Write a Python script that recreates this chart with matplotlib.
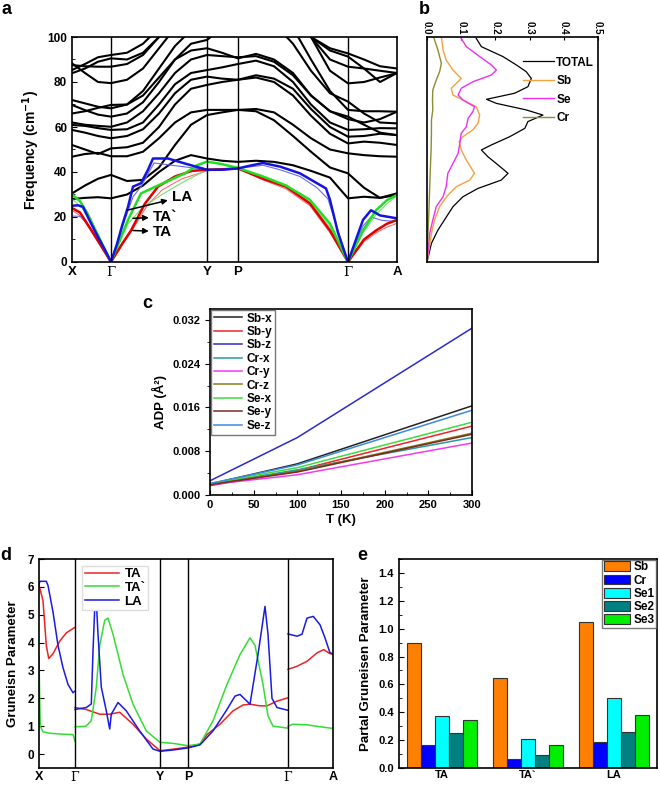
import numpy as np
import matplotlib
matplotlib.use('Agg')
import matplotlib.pyplot as plt
from matplotlib.ticker import MultipleLocator

plt.rcParams['font.family'] = ['Liberation Sans', 'DejaVu Sans']
plt.rcParams['font.weight'] = 'bold'
plt.rcParams['axes.labelweight'] = 'bold'
plt.rcParams['mathtext.default'] = 'bf'
plt.rcParams['axes.linewidth'] = 1.2

W, H = 660, 785
nan = float('nan')

# ---------------- panel a: phonon dispersion ----------------
kpath = [0, 39, 135, 166, 276, 325]
klabels = ['X', 'Γ', 'Y', 'P', 'Γ', 'A']
kgrid = [0, 13, 26, 39, 55, 71, 87, 103, 119, 135, 150, 166, 184, 202, 221, 239, 258, 276, 292, 308, 325]
optical = [
    [28.0, 28.5, 28.8, 28.3, 30.0, 34.0, 40.0, 45.0, 47.5, 46.0, 45.0, 44.5, 45.0, 44.5, 43.0, 40.5, 37.5, 28.3, 29.0, 28.5, 29.8],
    [30.5, 34.0, 37.0, 38.7, 36.0, 36.5, 42.0, 52.0, 61.0, 65.3, 66.5, 67.6, 67.0, 63.0, 56.0, 49.0, 42.0, 39.4, 33.0, 28.5, 30.5],
    [46.8, 48.0, 48.5, 47.0, 47.0, 49.0, 55.0, 62.0, 66.5, 67.6, 67.6, 67.6, 68.0, 66.5, 61.0, 55.0, 50.0, 48.3, 47.5, 47.0, 46.8],
    [52.0, 50.0, 48.0, 50.5, 51.0, 53.0, 60.0, 70.0, 77.0, 78.7, 80.0, 81.0, 82.0, 80.0, 74.0, 65.0, 57.0, 52.7, 53.5, 53.0, 52.0],
    [58.7, 57.5, 56.0, 55.0, 56.0, 59.0, 66.0, 75.0, 81.0, 82.4, 81.5, 81.0, 83.0, 81.5, 77.0, 68.0, 60.0, 55.7, 56.0, 57.0, 56.4],
    [60.9, 60.5, 59.5, 58.7, 59.0, 62.0, 70.0, 79.0, 84.0, 85.3, 86.5, 88.0, 89.5, 87.0, 80.0, 70.0, 62.0, 58.7, 59.0, 59.5, 59.4],
    [66.0, 67.0, 68.5, 69.8, 70.0, 74.0, 82.0, 90.0, 94.0, 95.0, 93.0, 90.5, 92.5, 90.0, 84.0, 74.0, 67.0, 64.6, 61.0, 57.5, 56.4],
    [69.8, 67.5, 65.5, 64.6, 66.0, 71.0, 80.0, 90.0, 97.0, 98.7, 104.0, 108.0, 110.0, 106.0, 97.0, 85.0, 75.0, 71.3, 66.0, 62.0, 61.6],
    [72.0, 70.5, 69.0, 68.3, 70.0, 76.0, 86.0, 96.0, 103.0, 106.0, 106.0, 106.0, 108.0, 110.0, 104.0, 90.0, 76.0, 67.6, 67.0, 67.0, 66.8],
    [83.9, 86.0, 89.0, 90.5, 90.0, 93.0, 100.0, 108.0, 112.0, 114.0, 114.0, 114.0, 114.0, 114.0, 112.0, 100.0, 85.0, 79.4, 80.0, 82.0, 83.9],
    [85.3, 88.0, 91.0, 92.0, 93.0, 97.0, 104.0, 110.0, 112.0, 112.0, 112.0, 112.0, 112.0, 112.0, 110.0, 100.0, 90.0, 86.8, 86.0, 85.0, 84.0],
    [88.3, 84.0, 80.0, 79.5, 81.0, 86.0, 95.0, 104.0, 110.0, 115.0, 115.0, 115.0, 115.0, 112.0, 108.0, 100.0, 95.0, 92.7, 90.0, 87.0, 86.0],
    [87.5, 87.0, 86.8, 86.8, 88.0, 92.0, 100.0, 108.0, 114.0, 116.0, 116.0, 116.0, 116.0, 116.0, 110.0, 100.0, 94.0, 91.3, 86.0, 80.0, 84.0],
    [62.0, 61.0, 60.5, 60.1, 62.0, 67.0, 75.0, 84.0, 90.0, 92.0, 91.5, 91.0, 91.5, 89.0, 83.0, 74.0, 67.0, 63.5, 62.0, 63.5, 66.8],
]

la_k = [0, 6, 11, 17, 22, 28, 34, 39, 45, 50, 56, 61, 69, 76, 81, 96, 115, 135, 150, 166, 180, 191, 208, 228, 245, 254, 258, 266, 276, 284, 291, 299, 308, 325]
la_f = [25, 25.2, 24.5, 19, 14.5, 9.5, 4.5, 0, 8, 16, 24.5, 33.5, 35, 41, 46, 46, 43.5, 41, 41, 41.6, 43, 44, 42.4, 39.4, 35, 32.7, 27.6, 13, 0, 10, 18.7, 23, 20.7, 19.4]
la2_k = [0, 8, 15, 27, 39, 50, 61, 69, 82, 100, 135, 166, 191, 208, 228, 245, 256, 266, 276, 291, 299, 310, 325]
la2_f = [20.4, 20.3, 17, 9, 0, 15, 29, 33.5, 44, 43, 41, 41.6, 43, 41, 38, 33, 28, 14, 0, 16, 20, 18.5, 18]
tap_k = [0, 8, 15, 28, 39, 48, 56, 69, 86, 113, 125, 135, 150, 166, 191, 214, 238, 258, 276, 291, 304, 315, 325]
tap_f = [30, 27, 22, 10, 0, 10, 18.7, 30.5, 34, 39.4, 43, 44.6, 43.5, 41.8, 38, 34, 27.6, 17, 0, 14, 23, 27.5, 29.8]
tap2_k = [0, 10, 25, 39, 56, 70, 90, 113, 135, 166, 191, 214, 238, 258, 276, 291, 304, 315, 325]
tap2_f = [28, 24, 13, 0, 17, 24, 30, 36, 41, 41.6, 37.5, 33, 26.5, 15.5, 0, 13, 21, 26, 29.5]
ta_k = [0, 8, 21, 39, 50, 59, 73, 86, 103, 120, 135, 150, 166, 191, 214, 238, 258, 276, 292, 304, 315, 325]
ta_f = [24, 22, 13, 0, 8, 14, 26, 33.5, 38, 40.5, 41, 41.2, 41.6, 37, 33.5, 26, 14, 0, 10, 14, 17, 18.7]
ta2_k = [0, 10, 39, 60, 75, 90, 110, 135, 166, 191, 214, 238, 258, 276, 292, 304, 315, 325]
ta2_f = [23, 20, 0, 14, 25, 32, 37, 40.5, 41.6, 36.5, 32.5, 25, 13, 0, 9, 13, 15.5, 17.2]

# ---------------- panel b: phonon DOS ----------------
tot_f = [99.4, 95.7, 91.3, 87.6, 84.6, 81.6, 77.9, 75.0, 72.3, 70.5, 67.6, 65.3, 62.4, 59.4, 55.7, 52.0, 49.8, 46.8, 43.1, 39.4, 36.4, 32.7, 29.0, 24.6, 20.1, 14.2, 8.3, 0]
tot_d = [0.144, 0.159, 0.222, 0.261, 0.290, 0.305, 0.295, 0.256, 0.174, 0.203, 0.290, 0.339, 0.295, 0.286, 0.242, 0.188, 0.159, 0.178, 0.208, 0.237, 0.217, 0.149, 0.105, 0.076, 0.057, 0.032, 0.013, 0]
sb_f = [100.1, 94.2, 89.8, 85.3, 81.6, 79.4, 77.2, 74.2, 72.0, 69.0, 65.3, 61.6, 58.7, 55.7, 53.5, 49.8, 45.3, 39.4, 36.4, 33.5, 29.0, 24.6, 18.7, 12.7, 0]
sb_d = [0.042, 0.047, 0.056, 0.076, 0.100, 0.086, 0.071, 0.076, 0.105, 0.144, 0.154, 0.149, 0.134, 0.105, 0.094, 0.100, 0.115, 0.139, 0.125, 0.086, 0.057, 0.037, 0.022, 0.013, 0]
se_f = [99.4, 95.7, 91.3, 87.6, 85.3, 83.1, 80.1, 77.2, 74.2, 72.0, 69.0, 66.8, 63.8, 60.1, 57.2, 52.7, 48.3, 43.8, 39.4, 33.5, 29.0, 24.6, 18.7, 12.7, 0]
se_d = [0.100, 0.115, 0.154, 0.188, 0.203, 0.188, 0.134, 0.100, 0.091, 0.105, 0.139, 0.134, 0.120, 0.115, 0.100, 0.096, 0.091, 0.076, 0.061, 0.056, 0.047, 0.027, 0.017, 0.008, 0]
cr_f = [100.1, 94.2, 88.3, 84.6, 80.9, 76.4, 72.0, 67.6, 63.1, 57.2, 49.8, 42.4, 33.5, 24.6, 12.7, 0]
cr_d = [0.019, 0.032, 0.042, 0.037, 0.027, 0.017, 0.016, 0.017, 0.013, 0.013, 0.012, 0.010, 0.008, 0.006, 0.003, 0]

# ---------------- panel c: ADP ----------------
temps = [0, 100, 300]
adp_names = ['Sb-x', 'Sb-y', 'Sb-z', 'Cr-x', 'Cr-y', 'Cr-z', 'Se-x', 'Se-y', 'Se-z']
adp_vals = [
    [0.0020, 0.0057, 0.0163],
    [0.0017, 0.0045, 0.0126],
    [0.0026, 0.0105, 0.0305],
    [0.0020, 0.0046, 0.0105],
    [0.0019, 0.0037, 0.0095],
    [0.0020, 0.0043, 0.0113],
    [0.0021, 0.0050, 0.0133],
    [0.0019, 0.0042, 0.0111],
    [0.0021, 0.0055, 0.0155],
]
adp_colors = ['#222222', '#e8262b', '#2b2bc8', '#2a9a9a', '#f03cf0', '#8a7a1e', '#3ddc3d', '#7a2a22', '#3a8ae0']

# ---------------- panel d: Gruneisen dispersion ----------------
dpath = [0, 36, 121, 149, 249, 294]
gta_k = [0, 4, 7.3, 9.7, 14, 20.7, 27.3, 36, 36, 36, 47.3, 60.7, 70.7, 80.7, 94, 107.3, 121, 135, 149, 161, 168, 181, 194, 204, 211, 221, 228, 238, 249, 249, 249, 258, 268, 278, 284.7, 289.7, 294]
gta_g = [6.07, 5.5, 3.9, 3.43, 3.6, 4.05, 4.35, 4.55, nan, 1.67, 1.6, 1.43, 1.43, 1.5, 1.07, 0.54, 0.12, 0.18, 0.25, 0.36, 0.7, 1.07, 1.55, 1.76, 1.79, 1.73, 1.73, 1.9, 2.02, nan, 3.04, 3.15, 3.33, 3.63, 3.75, 3.63, 3.57]
gtap_k = [0, 0.7, 1.3, 4, 10, 20, 34, 35.3, 36, 36, 36, 47, 52.3, 57.3, 60.7, 65.7, 69, 74, 84, 94, 107.3, 121, 135, 149, 161, 174, 188, 201, 211, 216, 224, 229, 234, 249, 249, 249, 254, 268, 281, 294]
gtap_g = [3.5, 2.0, 1.0, 0.8, 0.75, 0.72, 0.7, 0.55, 0.45, nan, 0.98, 1.0, 1.2, 2.4, 3.9, 4.8, 4.88, 4.3, 2.86, 1.79, 0.83, 0.42, 0.38, 0.3, 0.36, 1.19, 2.5, 3.57, 4.17, 3.9, 2.5, 1.37, 1.0, 0.93, nan, 1.0, 1.07, 1.05, 0.98, 0.92]
gla_k = [0, 1, 7.3, 9, 14, 19, 24, 29, 34, 36, 36, 36, 47.3, 52.3, 54, 55.7, 57.3, 59, 62.3, 67.3, 70.7, 72.3, 79, 87.3, 100.7, 114, 121, 135, 149, 161, 174, 188, 196, 201, 211, 219, 226, 229, 233, 238, 249, 249, 249, 258, 263, 268, 274.3, 281, 286, 291, 294]
gla_g = [6.1, 6.2, 6.2, 6.05, 5.1, 3.9, 3.1, 2.5, 2.2, 2.26, nan, 1.6, 1.67, 1.8, 3.7, 5.2, 5.5, 4.3, 2.4, 1.55, 0.9, 1.43, 1.85, 1.55, 0.83, 0.18, 0.1, 0.15, 0.22, 0.33, 0.83, 1.6, 2.08, 2.14, 1.79, 3.57, 5.3, 4.3, 2.0, 1.67, 1.57, nan, 4.31, 4.23, 4.3, 4.88, 4.94, 4.64, 4.17, 3.63, 3.6]

# ---------------- panel e: partial Gruneisen ----------------
modes = ['TA', 'TA`', 'LA']
elements = ['Sb', 'Cr', 'Se1', 'Se2', 'Se3']
partial = [
    [0.90, 0.645, 1.045],
    [0.165, 0.068, 0.19],
    [0.37, 0.207, 0.505],
    [0.25, 0.096, 0.255],
    [0.345, 0.167, 0.382],
]
bar_colors = ['#ff7f00', '#0000ff', '#00ffff', '#008080', '#00ee00']

fig = plt.figure(figsize=(6.6, 7.85), dpi=100)


def box(l, t, r, b):
    return [l / W, 1 - b / H, (r - l) / W, (b - t) / H]


def serif_gamma(ax):
    for lab in ax.get_xticklabels():
        if lab.get_text() == 'Γ':
            lab.set_family('DejaVu Serif')
            lab.set_weight('normal')


# panel a
ax = fig.add_axes(box(72, 37, 397, 262))
for row in optical:
    ax.plot(kgrid, row, color='black', lw=1.5)
ax.plot(ta2_k, ta2_f, color='#ff6a6a', lw=0.8)
ax.plot(tap2_k, tap2_f, color='#70e070', lw=0.8)
ax.plot(la2_k, la2_f, color='#6a6aee', lw=0.8)
ax.plot(ta_k, ta_f, color='#e00000', lw=1.8)
ax.plot(tap_k, tap_f, color='#22dd22', lw=1.8)
ax.plot(la_k, la_f, color='#1414e0', lw=1.8)
for x in kpath[1:-1]:
    ax.axvline(x, color='black', lw=1)
ax.set_xlim(0, 325)
ax.set_ylim(0, 100)
ax.set_xticks(kpath)
ax.set_xticklabels(klabels)
serif_gamma(ax)
ax.tick_params(axis='x', length=0, labelsize=9.5, pad=3)
ax.yaxis.set_major_locator(MultipleLocator(20))
ax.yaxis.set_minor_locator(MultipleLocator(10))
ax.tick_params(axis='y', which='both', direction='in', labelsize=8.5)
ax.set_ylabel('Frequency (cm$^{-1}$)', fontsize=10, labelpad=4)
arrow = dict(arrowstyle='<|-', color='black', lw=1.1, mutation_scale=8, shrinkA=1, shrinkB=0)
ax.annotate('LA', xy=(55, 23), xytext=(100, 29), fontsize=11, va='center', arrowprops=arrow)
ax.annotate('TA`', xy=(61, 19.4), xytext=(81, 20), fontsize=11, va='center', arrowprops=arrow)
ax.annotate('TA', xy=(61, 14), xytext=(81, 13.5), fontsize=11, va='center', arrowprops=arrow)

# panel b
ax = fig.add_axes(box(427, 37, 598, 262))
ax.plot(tot_d, tot_f, color='black', lw=0.9, label='TOTAL')
ax.plot(sb_d, sb_f, color='#f5a040', lw=1.0, label='Sb')
ax.plot(se_d, se_f, color='#ee30ee', lw=1.0, label='Se')
ax.plot(cr_d, cr_f, color='#8c8c30', lw=1.0, label='Cr')
ax.set_xlim(0, 0.5)
ax.set_ylim(0, 100)
ax.xaxis.tick_top()
ax.set_xticks([0, 0.1, 0.2, 0.3, 0.4, 0.5])
ax.set_xticklabels(['0.0', '0.1', '0.2', '0.3', '0.4', '0.5'], rotation=-90)
ax.tick_params(axis='x', direction='in', length=2, labelsize=7, pad=2)
ax.set_yticks([])
ax.legend(loc='upper right', bbox_to_anchor=(1.04, 0.96), frameon=False, fontsize=8.5,
          handlelength=2.6, handletextpad=0.2, labelspacing=0.55)

# panel c
ax = fig.add_axes(box(210, 309, 472, 495))
for name, vals, col in zip(adp_names, adp_vals, adp_colors):
    ax.plot(temps, vals, color=col, lw=1.1, label=name)
ax.set_xlim(0, 300)
ax.set_ylim(0, 0.034)
ax.xaxis.set_major_locator(MultipleLocator(50))
ax.xaxis.set_minor_locator(MultipleLocator(25))
ax.yaxis.set_major_locator(MultipleLocator(0.008))
ax.yaxis.set_minor_locator(MultipleLocator(0.004))
ax.yaxis.set_major_formatter(matplotlib.ticker.FormatStrFormatter('%.3f'))
ax.tick_params(axis='x', which='both', direction='in', labelsize=8)
ax.tick_params(axis='y', which='both', direction='out', labelsize=8)
ax.set_xlabel('T (K)', fontsize=9.5, labelpad=3)
ax.set_ylabel('ADP (Å²)', fontsize=9.5, labelpad=4)
leg = ax.legend(loc='upper left', fontsize=8.5, handlelength=2.4, handletextpad=0.4,
                labelspacing=0.12, borderpad=0.25, borderaxespad=0.05, fancybox=False)
leg.get_frame().set_edgecolor('#555555')

# panel d
ax = fig.add_axes(box(39, 559, 333, 768))
ax.plot(gta_k, gta_g, color='#ee2222', lw=1.1, label='TA')
ax.plot(gtap_k, gtap_g, color='#33dd33', lw=1.1, label='TA`')
ax.plot(gla_k, gla_g, color='#1a1ae0', lw=1.1, label='LA')
for x in dpath[1:-1]:
    ax.axvline(x, color='black', lw=1)
ax.set_xlim(0, 294)
ax.set_ylim(-0.5, 7)
ax.set_xticks(dpath)
ax.set_xticklabels(klabels)
serif_gamma(ax)
ax.tick_params(axis='x', length=0, labelsize=9, pad=2)
ax.set_yticks(range(0, 8))
ax.tick_params(axis='y', direction='in', labelsize=8.5)
ax.set_ylabel('Gruneisn Parameter', fontsize=9.5, labelpad=6)
leg = ax.legend(loc='upper left', bbox_to_anchor=(0.125, 1.0), fontsize=9.5, handlelength=2.6,
                handletextpad=0.4, labelspacing=0.1, borderpad=0.2, fancybox=False, framealpha=1)
leg.get_frame().set_edgecolor('#dddddd')

# panel e
ax = fig.add_axes(box(399, 559, 657, 768))
xg = np.arange(len(modes))
bw = 0.163
for i, (el, vals, col) in enumerate(zip(elements, partial, bar_colors)):
    ax.bar(xg + (i - 2) * bw, vals, width=bw, color=col, edgecolor='#333333', lw=0.8, label=el)
ax.set_xlim(-0.5, 2.5)
ax.set_ylim(0, 1.5)
ax.set_xticks(xg)
ax.set_xticklabels(modes)
ax.tick_params(axis='x', length=0, labelsize=8, pad=1.5)
ax.yaxis.set_major_locator(MultipleLocator(0.2))
ax.yaxis.set_minor_locator(MultipleLocator(0.1))
ax.yaxis.set_major_formatter(matplotlib.ticker.FormatStrFormatter('%.1f'))
ax.tick_params(axis='y', which='both', direction='in', labelsize=8)
ax.set_ylabel('Partal Gruneisen Parameter', fontsize=9.5, labelpad=5)
leg = ax.legend(loc='upper right', fontsize=8.5, handlelength=2.2, handleheight=0.9,
                handletextpad=0.3, labelspacing=0.1, borderpad=0.15, borderaxespad=0.05,
                fancybox=False)
leg.get_frame().set_edgecolor('#555555')

# panel letters
for letter, px, py in [('a', 6, 10), ('b', 424, 9), ('c', 147, 304), ('d', 6, 556), ('e', 362, 555)]:
    fig.text(px / W, 1 - py / H, letter, fontsize=13, fontweight='bold', ha='center', va='center')

fig.savefig('out.png', dpi=100)
